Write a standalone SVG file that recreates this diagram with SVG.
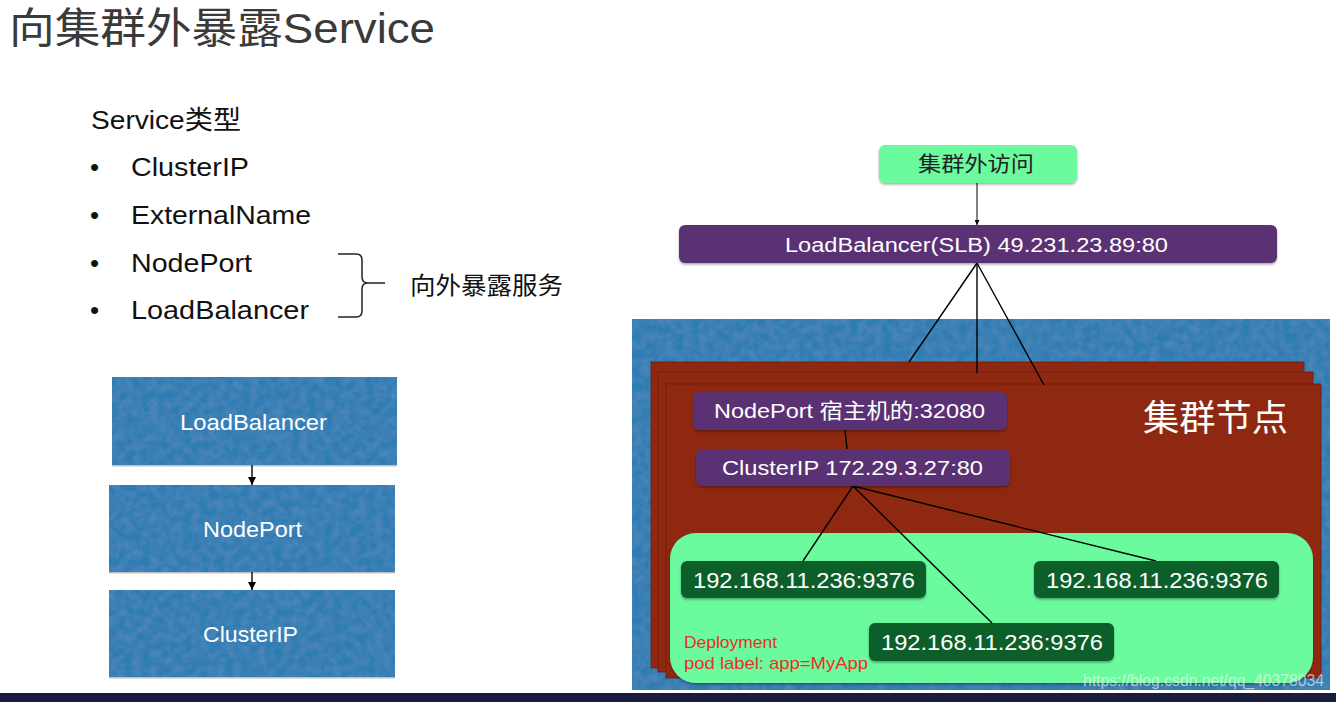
<svg xmlns="http://www.w3.org/2000/svg" width="1336" height="702" viewBox="0 0 1336 702">
<style>
.lat{font-family:"Liberation Sans","Noto Sans CJK SC",sans-serif;}
.wt{fill:#ffffff;}
.blue{fill:#2e7bb4;}
.red{fill:#8f2810;stroke:#6e1d0a;stroke-width:0.8;}
.purp{fill:#5a3273;}
.pod{fill:#0b5f2a;}
.ln{stroke:#000;stroke-width:1.4;fill:none;}
.lnt{stroke:#000;stroke-width:1;fill:none;}
</style>
<defs>
<filter id="tex" x="0" y="0" width="100%" height="100%">
<feTurbulence type="fractalNoise" baseFrequency="0.12" numOctaves="3" seed="4" result="n"/>
<feColorMatrix in="n" type="matrix" values="0 0 0 0 1  0 0 0 0 1  0 0 0 0 1  0.09 0 0 0 -0.025" result="w"/>
<feComposite in="w" in2="SourceGraphic" operator="in" result="wt"/>
<feMerge><feMergeNode in="SourceGraphic"/><feMergeNode in="wt"/></feMerge>
</filter>
<filter id="sh" x="-5%" y="-10%" width="110%" height="130%">
<feDropShadow dx="0" dy="1.5" stdDeviation="1.2" flood-color="#000" flood-opacity="0.35"/>
</filter>
<marker id="ah" viewBox="0 0 10 10" refX="10" refY="5" markerWidth="8" markerHeight="8" markerUnits="userSpaceOnUse" orient="auto">
<path d="M0,0 L10,5 L0,10 z" fill="#000"/>
</marker>
<marker id="ahs" viewBox="0 0 10 10" refX="10" refY="5" markerWidth="5" markerHeight="5" markerUnits="userSpaceOnUse" orient="auto">
<path d="M0,0 L10,5 L0,10 z" fill="#000"/>
</marker>
</defs>
<rect x="0" y="0" width="1336" height="702" fill="#ffffff"/>
<rect x="0" y="693" width="1336" height="9" fill="#1b1b3d"/>

<g id="title">
<text class="lat" x="9" y="43" font-size="42" fill="#3a3a3a" textLength="426" lengthAdjust="spacingAndGlyphs">向集群外暴露Service</text>
</g>

<g id="service-types" class="lat" fill="#111">
<text x="91" y="129" font-size="26" textLength="150" lengthAdjust="spacingAndGlyphs">Service类型</text>
<text x="90" y="176" font-size="26">•</text>
<text x="90" y="224" font-size="26">•</text>
<text x="90" y="272" font-size="26">•</text>
<text x="90" y="319" font-size="26">•</text>
<text x="131" y="176" font-size="26" textLength="118" lengthAdjust="spacingAndGlyphs">ClusterIP</text>
<text x="131" y="224" font-size="26" textLength="180" lengthAdjust="spacingAndGlyphs">ExternalName</text>
<text x="131" y="272" font-size="26" textLength="121" lengthAdjust="spacingAndGlyphs">NodePort</text>
<text x="131" y="319" font-size="26" textLength="178" lengthAdjust="spacingAndGlyphs">LoadBalancer</text>
<path d="M338,254 H356 Q362,254 362,260 V277 Q362,283 368,283 H385 M368,283 Q362,283 362,289 V311 Q362,317 356,317 H338" stroke="#222" stroke-width="1.5" fill="none"/>
<text x="410" y="294" font-size="24" textLength="153" lengthAdjust="spacingAndGlyphs">向外暴露服务</text>
</g>

<g id="box-loadbalancer">
<rect x="112" y="377" width="285" height="88" fill="#000" fill-opacity="0.25" transform="translate(0,1.5)"/>
<rect x="112" y="377" width="285" height="88" class="blue" filter="url(#tex)"/>
<text class="lat wt" x="180" y="430" font-size="22" textLength="147" lengthAdjust="spacingAndGlyphs">LoadBalancer</text>
</g>
<g id="box-nodeport">
<rect x="109" y="485" width="286" height="87" fill="#000" fill-opacity="0.25" transform="translate(0,1.5)"/>
<rect x="109" y="485" width="286" height="87" class="blue" filter="url(#tex)"/>
<text class="lat wt" x="203" y="537" font-size="22" textLength="99" lengthAdjust="spacingAndGlyphs">NodePort</text>
</g>
<g id="box-clusterip">
<rect x="109" y="590" width="286" height="87" fill="#000" fill-opacity="0.25" transform="translate(0,1.5)"/>
<rect x="109" y="590" width="286" height="87" class="blue" filter="url(#tex)"/>
<text class="lat wt" x="203" y="642" font-size="22" textLength="95" lengthAdjust="spacingAndGlyphs">ClusterIP</text>
</g>

<g id="cluster">
<rect x="632" y="319" width="698" height="371" class="blue" filter="url(#tex)"/>
</g>

<g id="cluster-nodes">
<rect x="651" y="362" width="653" height="306" class="red"/>
<rect x="658" y="372" width="655" height="300" class="red"/>
<rect x="666" y="384" width="655" height="294" class="red"/>
<text class="lat wt" x="1143" y="431" font-size="36" textLength="145" lengthAdjust="spacingAndGlyphs">集群节点</text>
</g>

<g id="deployment">
<rect x="670" y="533" width="643" height="150" rx="26" fill="#6cfa9e" filter="url(#sh)"/>
<text class="lat" x="684" y="648" font-size="17" fill="#e8302a" textLength="93" lengthAdjust="spacingAndGlyphs">Deployment</text>
<text class="lat" x="684" y="669" font-size="17" fill="#e8302a" textLength="184" lengthAdjust="spacingAndGlyphs">pod label: app=MyApp</text>
</g>

<g id="connectors">
<line class="lnt" x1="977" y1="183" x2="977" y2="225" marker-end="url(#ahs)"/>
<line class="ln" x1="977" y1="263" x2="909" y2="362"/>
<line class="ln" x1="977" y1="263" x2="977" y2="373"/>
<line class="ln" x1="977" y1="263" x2="1044" y2="385"/>
<line class="ln" x1="845" y1="430" x2="847" y2="449"/>
<line class="ln" x1="853" y1="486" x2="803" y2="561"/>
<line class="ln" x1="853" y1="486" x2="992" y2="623"/>
<line class="ln" x1="853" y1="486" x2="1156" y2="561"/>
<line class="ln" x1="252" y1="465" x2="252" y2="485" marker-end="url(#ah)"/>
<line class="ln" x1="252" y1="572" x2="252" y2="590" marker-end="url(#ah)"/>
</g>

<g id="external-access">
<rect x="879" y="145" width="198" height="38" rx="6" fill="#6cfa9e" filter="url(#sh)"/>
<text class="lat" x="918" y="171" font-size="21" fill="#222" textLength="116" lengthAdjust="spacingAndGlyphs">集群外访问</text>
</g>

<g id="slb">
<rect x="679" y="225" width="598" height="38" rx="6" class="purp" filter="url(#sh)"/>
<text class="lat wt" x="785" y="252" font-size="19.5" textLength="383" lengthAdjust="spacingAndGlyphs">LoadBalancer(SLB) 49.231.23.89:80</text>
</g>

<g id="nodeport">
<rect x="693" y="392" width="314" height="38" rx="6" class="purp" filter="url(#sh)"/>
<text class="lat wt" x="714" y="418" font-size="21" textLength="271" lengthAdjust="spacingAndGlyphs">NodePort 宿主机的:32080</text>
</g>

<g id="clusterip">
<rect x="696" y="449" width="314" height="37" rx="6" class="purp" filter="url(#sh)"/>
<text class="lat wt" x="722" y="475" font-size="21" textLength="261" lengthAdjust="spacingAndGlyphs">ClusterIP 172.29.3.27:80</text>
</g>

<g id="pod-1">
<rect x="681" y="561" width="245" height="37" rx="6" class="pod" filter="url(#sh)"/>
<text class="lat wt" x="693" y="588" font-size="22" textLength="222" lengthAdjust="spacingAndGlyphs">192.168.11.236:9376</text>
</g>
<g id="pod-2">
<rect x="1034" y="561" width="245" height="37" rx="6" class="pod" filter="url(#sh)"/>
<text class="lat wt" x="1046" y="588" font-size="22" textLength="222" lengthAdjust="spacingAndGlyphs">192.168.11.236:9376</text>
</g>
<g id="pod-3">
<rect x="869" y="623" width="245" height="38" rx="6" class="pod" filter="url(#sh)"/>
<text class="lat wt" x="881" y="650" font-size="22" textLength="222" lengthAdjust="spacingAndGlyphs">192.168.11.236:9376</text>
</g>

<g id="watermark">
<text class="lat" x="1083" y="686" font-size="16" fill="#ffffff" fill-opacity="0.6" textLength="241" lengthAdjust="spacingAndGlyphs">https://blog.csdn.net/qq_40378034</text>
</g>
</svg>
